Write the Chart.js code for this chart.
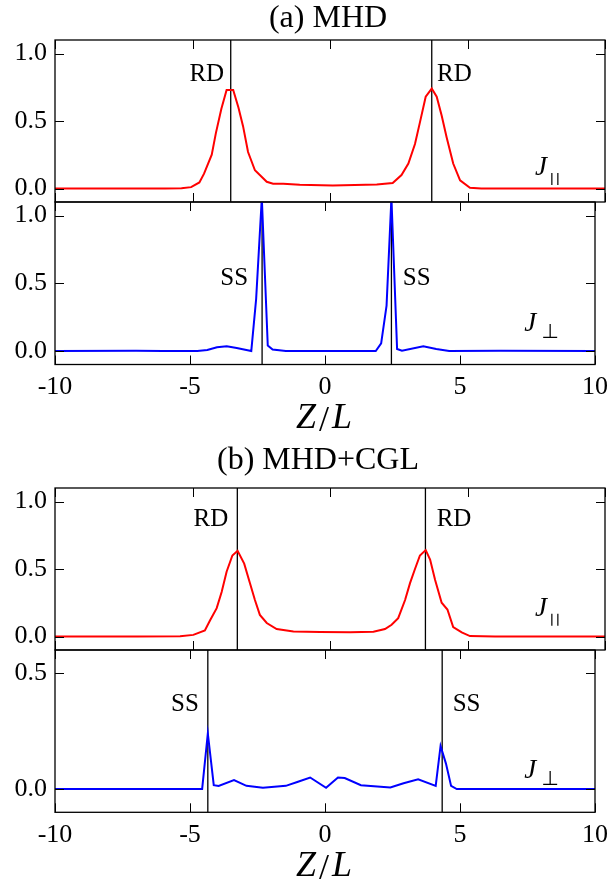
<!DOCTYPE html>
<html>
<head>
<meta charset="utf-8">
<script src="https://cdn.jsdelivr.net/npm/chart.js@4.4.0/dist/chart.umd.min.js"></script>
<style>
  html, body { margin: 0; padding: 0; background: #fff; }
  #wrap { position: relative; width: 615px; height: 886px; }
  #wrap canvas { position: absolute; left: 0; top: 0; }
</style>
</head>
<body>
<div id="wrap">
  <canvas id="p1" width="615" height="886"></canvas>
  <canvas id="p2" width="615" height="886"></canvas>
  <canvas id="p3" width="615" height="886"></canvas>
  <canvas id="p4" width="615" height="886"></canvas>
</div>
<script>
// tick values
const zTicks = [-10, -5, 0, 5, 10];
const yTicksFull = [0, 0.5, 1.0];
const yTicksSmall = [0, 0.5];

// (a) MHD, J parallel
const zMhdPar = [-10, -8, -6, -5.4, -5.05, -4.75, -4.58, -4.3, -4.15, -3.95, -3.76, -3.52, -3.33, -3.16, -2.98, -2.73, -2.3, -2.07, -1.7, -1.1, 0.1, 1.7, 2.28, 2.6, 2.85, 3.09, 3.27, 3.48, 3.7, 3.88, 4.06, 4.24, 4.48, 4.73, 5.09, 5.5, 7, 10];
const jMhdPar = [0, 0, 0, 0.002, 0.01, 0.045, 0.11, 0.25, 0.41, 0.59, 0.73, 0.73, 0.6, 0.46, 0.27, 0.135, 0.05, 0.035, 0.035, 0.027, 0.022, 0.03, 0.04, 0.1, 0.185, 0.33, 0.49, 0.68, 0.74, 0.68, 0.54, 0.38, 0.185, 0.06, 0.005, 0, 0, 0];

// (a) MHD, J perp
const zMhdPerp = [-10, -7, -6, -4.73, -4.36, -4.0, -3.64, -3.27, -2.73, -2.55, -2.34, -2.12, -1.94, -1.45, 0, 1.88, 2.08, 2.28, 2.46, 2.67, 2.85, 3.64, 4.12, 4.6, 6.5, 10];
const jMhdPerp = [0, 0.002, 0, 0, 0.007, 0.027, 0.034, 0.022, 0, 0.385, 1.13, 0.04, 0.01, 0, 0, 0, 0.056, 0.335, 1.13, 0.015, 0.002, 0.034, 0.015, 0, 0.002, 0];

// (b) MHD+CGL, J parallel
const zCglPar = [-10, -7, -5.45, -4.97, -4.55, -4.36, -4.12, -3.94, -3.76, -3.55, -3.36, -3.12, -2.91, -2.73, -2.55, -2.3, -1.94, -1.33, -0.36, 0.73, 1.58, 2.0, 2.24, 2.48, 2.73, 2.91, 3.09, 3.27, 3.48, 3.64, 3.82, 4.06, 4.27, 4.48, 4.79, 5.09, 6, 10];
const jCglPar = [0, 0, 0.002, 0.012, 0.045, 0.12, 0.21, 0.33, 0.48, 0.6, 0.635, 0.54, 0.395, 0.27, 0.16, 0.1, 0.055, 0.037, 0.033, 0.032, 0.035, 0.055, 0.087, 0.136, 0.27, 0.395, 0.5, 0.6, 0.64, 0.57, 0.42, 0.25, 0.2, 0.07, 0.03, 0.003, 0, 0];

// (b) MHD+CGL, J perp
const zCglPerp = [-10, -7, -4.55, -4.34, -4.12, -3.94, -3.37, -2.91, -2.3, -1.45, -1.0, -0.55, 0.04, 0.48, 0.73, 1.33, 2.42, 2.91, 3.45, 4.1, 4.28, 4.48, 4.67, 4.88, 7, 10];
const jCglPerp = [0, 0, 0.001, 0.24, 0.017, 0.014, 0.039, 0.014, 0.006, 0.014, 0.032, 0.05, 0.006, 0.05, 0.048, 0.017, 0.007, 0.025, 0.042, 0.014, 0.186, 0.11, 0.014, 0, 0, 0];

// positions of the RD / SS markers
const rdMhd = [-3.61, 3.70];
const ssMhd = [-2.33, 2.46];
const rdCgl = [-3.37, 3.47];
const ssCgl = [-4.34, 4.34];

const SERIF = '"Liberation Serif", "DejaVu Serif", serif';

const panels = [
  { id: 'p1', z: zMhdPar, j: jMhdPar, color: '#ff0000', top: 40, bottom: 202,
    yMin: -0.1, yMax: 1.1, yTicks: yTicksFull, marks: rdMhd, tag: 'RD',
    tagAt: [[-3.85, 0.80, 'right'], [3.89, 0.80, 'left']],
    sub: '||', jAt: [7.45, 0.10], title: ['(a) MHD', 328, 27] },
  { id: 'p2', z: zMhdPerp, j: jMhdPerp, color: '#0000ff', top: 202, bottom: 364.5,
    yMin: -0.1, yMax: 1.1, yTicks: yTicksFull, marks: ssMhd, tag: 'SS',
    tagAt: [[-2.85, 0.49, 'right'], [2.88, 0.49, 'left']],
    sub: '\u22a5', jAt: [7.38, 0.15], showX: true },
  { id: 'p3', z: zCglPar, j: jCglPar, color: '#ff0000', top: 488, bottom: 650,
    yMin: -0.1, yMax: 1.1, yTicks: yTicksFull, marks: rdCgl, tag: 'RD',
    tagAt: [[-3.70, 0.815, 'right'], [3.88, 0.815, 'left']],
    sub: '||', jAt: [7.45, 0.153], title: ['(b) MHD+CGL', 318, 469] },
  { id: 'p4', z: zCglPerp, j: jCglPerp, color: '#0000ff', top: 650, bottom: 812.3,
    yMin: -0.1, yMax: 0.6, yTicks: yTicksSmall, marks: ssCgl, tag: 'SS',
    tagAt: [[-4.67, 0.337, 'right'], [4.73, 0.337, 'left']],
    sub: '\u22a5', jAt: [7.38, 0.048], showX: true }
];

const X_AXIS_H = 40;

const framePlugin = {
  id: 'frame',
  afterDatasetsDraw(chart, args, o) {
    const { ctx, chartArea: a } = chart;
    const x = chart.scales.x, y = chart.scales.y;
    ctx.save();
    ctx.strokeStyle = '#000';
    ctx.lineWidth = 1;
    ctx.beginPath();
    zTicks.forEach(v => {
      const px = Math.round(x.getPixelForValue(v)) + 0.5;
      ctx.moveTo(px, a.top); ctx.lineTo(px, a.top + 9);
      ctx.moveTo(px, a.bottom); ctx.lineTo(px, a.bottom - 9);
    });
    o.yTicks.forEach(v => {
      const py = Math.round(y.getPixelForValue(v)) + 0.5;
      ctx.moveTo(a.left, py); ctx.lineTo(a.left + 9, py);
      ctx.moveTo(a.right, py); ctx.lineTo(a.right - 9, py);
    });
    ctx.stroke();
    ctx.lineWidth = 1.3;
    ctx.strokeRect(a.left, a.top, a.right - a.left, a.bottom - a.top);

    ctx.fillStyle = '#000';
    ctx.textBaseline = 'alphabetic';
    // RD / SS tags
    ctx.font = '25px ' + SERIF;
    o.tagAt.forEach(([zv, jv, align]) => {
      ctx.textAlign = align;
      ctx.fillText(o.tag, x.getPixelForValue(zv), y.getPixelForValue(jv));
    });
    // J label with subscript
    const jx = x.getPixelForValue(o.jAt[0]), jy = y.getPixelForValue(o.jAt[1]);
    ctx.textAlign = 'left';
    ctx.font = 'italic 27px ' + SERIF;
    ctx.fillText('J', jx, jy);
    const jw = ctx.measureText('J').width;
    if (o.sub === '||') {
      ctx.lineWidth = 1.2;
      ctx.beginPath();
      [0, 6].forEach(d => {
        ctx.moveTo(jx + jw + 5 + d, jy - 2);
        ctx.lineTo(jx + jw + 5 + d, jy + 10);
      });
      ctx.stroke();
    } else {
      ctx.font = '20px "DejaVu Sans", sans-serif';
      ctx.fillText(o.sub, jx + jw + 5, jy + 7);
    }
    // panel title
    if (o.title) {
      ctx.font = '32px ' + SERIF;
      ctx.textAlign = 'center';
      ctx.fillText(o.title[0], o.title[1], o.title[2]);
    }
    // x axis title Z/L
    if (o.showX) {
      const cx = (a.left + a.right) / 2, by = a.bottom + 63.5;
      ctx.textAlign = 'left';
      ctx.font = 'italic 36px ' + SERIF;
      ctx.fillText('Z', cx - 29, by);
      ctx.fillText('L', cx + 7, by);
      ctx.font = '36px ' + SERIF;
      ctx.textAlign = 'center';
      ctx.fillText('/', cx - 1, by + 3);
    }
    ctx.restore();
  }
};

panels.forEach(p => {
  const datasets = [{
    data: p.z.map((v, i) => ({ x: v, y: p.j[i] })),
    borderColor: p.color,
    borderWidth: 2,
    pointRadius: 0,
    tension: 0,
    clip: 0
  }];
  p.marks.forEach(m => {
    datasets.push({
      data: [{ x: m, y: p.yMin }, { x: m, y: p.yMax }],
      borderColor: '#000',
      borderWidth: 1.3,
      pointRadius: 0
    });
  });

  new Chart(document.getElementById(p.id), {
    type: 'line',
    data: { datasets: datasets },
    plugins: [framePlugin],
    options: {
      responsive: false,
      animation: false,
      devicePixelRatio: 1,
      layout: {
        padding: {
          left: 0,
          right: 10,
          top: p.top,
          bottom: 886 - p.bottom - (p.showX ? X_AXIS_H : 0)
        }
      },
      plugins: {
        legend: { display: false },
        tooltip: { enabled: false },
        frame: p
      },
      scales: {
        x: {
          type: 'linear',
          min: -10,
          max: 10,
          display: !!p.showX,
          grid: { display: false, drawTicks: false },
          border: { display: false },
          afterBuildTicks: s => { s.ticks = zTicks.map(v => ({ value: v })); },
          afterFit: s => { s.height = p.showX ? X_AXIS_H : 0; },
          ticks: {
            color: '#000',
            padding: 7,
            maxRotation: 0,
            font: { family: SERIF, size: 26 },
            callback: v => String(v)
          }
        },
        y: {
          type: 'linear',
          min: p.yMin,
          max: p.yMax,
          grid: { display: false, drawTicks: false },
          border: { display: false },
          afterBuildTicks: s => { s.ticks = p.yTicks.map(v => ({ value: v })); },
          afterFit: s => { s.width = 55; },
          ticks: {
            color: '#000',
            padding: 8,
            font: { family: SERIF, size: 26 },
            callback: v => v.toFixed(1)
          }
        }
      }
    }
  });
});
</script>
</body>
</html>
